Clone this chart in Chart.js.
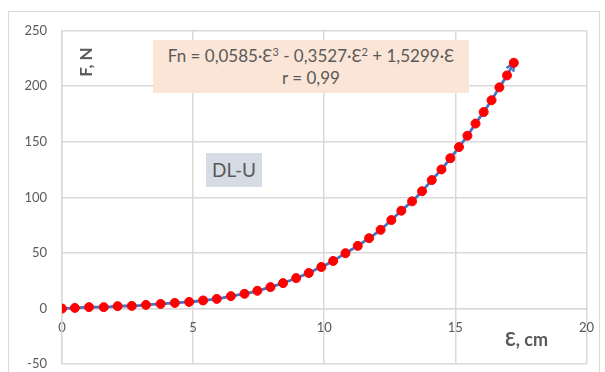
<!DOCTYPE html>
<html>
<head>
<meta charset="utf-8">
<script src="https://cdn.jsdelivr.net/npm/chart.js@4"></script>
<style>
  body { margin: 0; background: #fff; font-family: Lato, "Liberation Sans", sans-serif; }
  #wrap { position: relative; width: 605px; height: 372px; overflow: hidden; }
  #dlChart { position: absolute; left: 0; top: 0; }
  #frame { position: absolute; left: 8px; top: 11px; width: 590px; height: 380px; border: 1px solid #d9d9d9; pointer-events: none; }
  .note { position: absolute; color: #595959; text-align: center; }
  #eq { left: 153px; top: 40px; width: 316px; height: 53px; background: #fbe5d6; font-size: 17px; line-height: 22px; padding-top: 5px; box-sizing: border-box; }
  #eq sup { font-size: 11px; line-height: 0; vertical-align: 6px; }
  #tag { left: 206px; top: 153px; width: 56px; height: 34px; background: #d6dce5; font-size: 19px; line-height: 34px; }
  #ytitle { left: 64px; top: 51px; width: 44px; height: 22px; font-size: 17px; font-weight: bold; line-height: 22px; transform: rotate(-90deg); }
  #xtitle { left: 505px; top: 328px; font-size: 18px; font-weight: bold; }
</style>
</head>
<body>
<div id="wrap">
  <canvas id="dlChart" width="605" height="387"></canvas>
  <div id="frame"></div>
  <div class="note" id="eq">Fn = 0,0585·Ɛ<sup>3</sup> - 0,3527·Ɛ<sup>2</sup> + 1,5299·Ɛ<br>r = 0,99</div>
  <div class="note" id="tag">DL-U</div>
  <div class="note" id="ytitle">F, N</div>
  <div class="note" id="xtitle">Ɛ, cm</div>
</div>
<script>
// elongation (cm) and force (N)
const strain = [0, 0.49, 1.03, 1.59, 2.12, 2.66, 3.20, 3.76, 4.30, 4.85,
  5.38, 5.90, 6.44, 6.96, 7.45, 7.95, 8.43, 8.93, 9.41, 9.89,
  10.34, 10.81, 11.28, 11.71, 12.15, 12.56, 12.94, 13.35, 13.73, 14.10,
  14.47, 14.81, 15.14, 15.46, 15.77, 16.08, 16.38, 16.68, 16.97, 17.23];
const force = [0, 0.6, 1.3, 1.3, 2.2, 2.4, 3.3, 4.2, 5.1, 6.0,
  7.3, 8.7, 11.2, 13.3, 16.0, 19.3, 22.9, 27.4, 32.0, 37.4,
  42.8, 49.8, 56.4, 63.3, 70.8, 79.6, 88.0, 96.4, 105.5, 115.5,
  125.1, 135.2, 145.2, 155.4, 166.3, 176.7, 187.3, 198.9, 209.6, 221.0];
const xTicks = [0, 5, 10, 15, 20];
const yTicks = [-50, 0, 50, 100, 150, 200, 250];

const points = strain.map(function (x, i) { return { x: x, y: force[i] }; });

// arrowhead at the end of the trend line
const arrowHead = {
  id: "arrowHead",
  afterDatasetDraw: function (chart, args) {
    if (args.index !== 1) return;
    const meta = chart.getDatasetMeta(1);
    const a = meta.data[meta.data.length - 2];
    const b = meta.data[meta.data.length - 1];
    const ang = Math.atan2(b.y - a.y, b.x - a.x);
    const ctx = chart.ctx;
    ctx.save();
    ctx.strokeStyle = "#4472c4";
    ctx.lineWidth = 2.5;
    ctx.beginPath();
    ctx.moveTo(b.x - 9 * Math.cos(ang - 0.45), b.y - 9 * Math.sin(ang - 0.45));
    ctx.lineTo(b.x, b.y);
    ctx.lineTo(b.x - 9 * Math.cos(ang + 0.45), b.y - 9 * Math.sin(ang + 0.45));
    ctx.stroke();
    ctx.restore();
  }
};

const grid = "#d9d9d9";
const tickFont = { family: "Lato, 'Liberation Sans', sans-serif", size: 13 };

new Chart(document.getElementById("dlChart").getContext("2d"), {
  type: "scatter",
  data: {
    datasets: [{
      label: "DL-U",
      data: points,
      backgroundColor: "#ff0000",
      borderColor: "#ff0000",
      pointRadius: 4.5,
      order: 0
    }, {
      label: "trend",
      data: points,
      showLine: true,
      borderColor: "#4472c4",
      borderWidth: 2.8,
      pointRadius: 0,
      cubicInterpolationMode: "monotone",
      order: 1
    }]
  },
  options: {
    responsive: false,
    animation: false,
    layout: { padding: { left: 0, top: 30.5, right: 18, bottom: 9.3 } },
    scales: {
      x: {
        type: "linear",
        position: { y: 0 },
        min: 0,
        max: 20,
        afterBuildTicks: function (s) { s.ticks = xTicks.map(function (v) { return { value: v }; }); },
        grid: { color: grid, lineWidth: 1.5, drawTicks: false },
        border: { color: grid, width: 1.5 },
        ticks: { color: "#595959", font: tickFont, padding: 11, maxRotation: 0 }
      },
      y: {
        min: -50,
        max: 250,
        afterBuildTicks: function (s) { s.ticks = yTicks.map(function (v) { return { value: v }; }); },
        afterFit: function (s) { s.width = 62; },
        grid: { color: grid, lineWidth: 1.5, drawTicks: false },
        border: { color: grid, width: 1.5 },
        ticks: { color: "#595959", font: tickFont, padding: 15 }
      }
    },
    plugins: {
      legend: { display: false },
      tooltip: { enabled: false }
    }
  },
  plugins: [arrowHead]
});
</script>
</body>
</html>
